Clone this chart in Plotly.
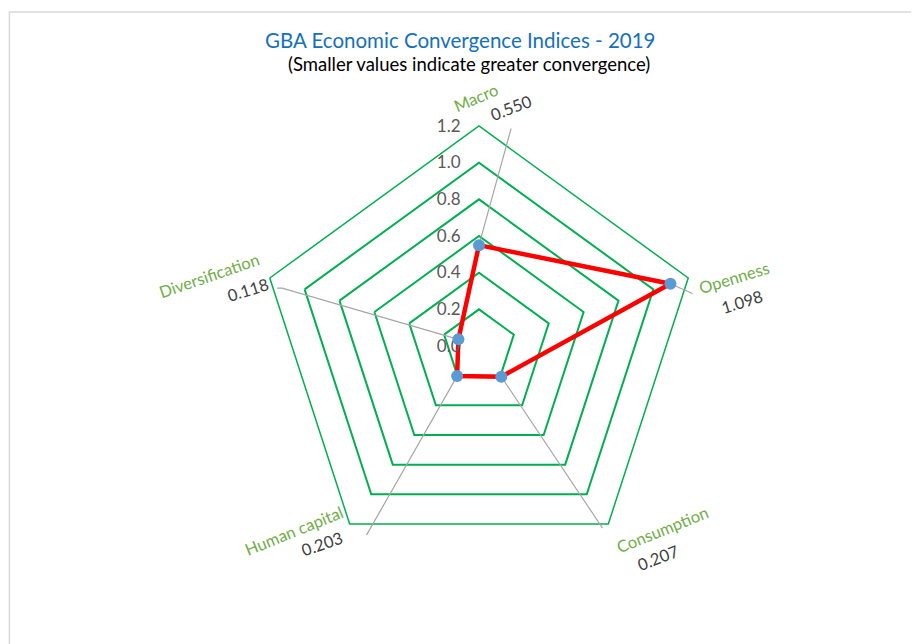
import plotly.graph_objects as go

# ---- data ----
categories = ["Macro", "Openness", "Consumption", "Human capital", "Diversification"]
values = [0.550, 1.098, 0.207, 0.203, 0.118]
radial_ticks = [0.0, 0.2, 0.4, 0.6, 0.8, 1.0, 1.2]

title_text = "GBA Economic Convergence Indices - 2019"
subtitle_text = "(Smaller values indicate greater convergence)"

# ---- layout constants ----
W, H = 919, 644
OFF = 8  # page body margin
FONT = "Lato"
GREEN_GRID = "#00B050"
GREEN_TXT = "#70AD47"
dom_x = [0.2731, 0.7519]
dom_y = [0.1335, 0.8168]

def px(x, y):
    return (x - OFF) / W, 1 - (y - OFF) / H

n = len(categories)
cat_angles = [i * 360 / n for i in range(n)]

# leader-line geometry (polar: r, theta deg clockwise from top) for label anchors
leader_pts = {
    "Macro": [(1.20, 8.4)],
    "Openness": [(1.282, 79.0), (1.304, 79.2)],
    "Consumption": [(1.389, 145.9), (1.408, 144.8)],
    "Human capital": [(1.249, 210.7), (1.277, 212.8)],
    "Diversification": [(1.119, 286.4), (1.145, 286.0)],
}
# label placement (page pixel centers, rotation)
label_pos = {
    "Macro": ((476, 98, -23), (511, 108, -21)),
    "Openness": ((734, 278, -17), (742, 302, -17)),
    "Consumption": ((662, 530, -22), (658, 558, -21)),
    "Human capital": ((294, 531, -22), (322, 544, -19)),
    "Diversification": ((209, 276, -19), (248, 290, -17)),
}

fig = go.Figure()

# red data polygon on the categorical (pentagon-grid) subplot
fig.add_trace(go.Scatterpolar(
    r=values + values[:1], theta=categories + categories[:1],
    mode="lines", line=dict(color="#FF0000", width=4.5),
    subplot="polar", showlegend=False, hoverinfo="skip"))

# leader lines
for c, v, a in zip(categories, values, cat_angles):
    pts = leader_pts[c]
    fig.add_trace(go.Scatterpolar(
        r=[v] + [p[0] for p in pts], theta=[a] + [p[1] for p in pts],
        mode="lines", line=dict(color="#A6A6A6", width=1.2),
        subplot="polar2", cliponaxis=False, showlegend=False, hoverinfo="skip"))

# markers
fig.add_trace(go.Scatterpolar(
    r=values, theta=cat_angles, mode="markers",
    marker=dict(color="#5B9BD5", size=12),
    subplot="polar2", cliponaxis=False, showlegend=False,
    text=categories, hovertemplate="%{text}: %{r:.3f}<extra></extra>"))

annotations = []
for c, v in zip(categories, values):
    (lx, ly, la), (vx, vy, va) = label_pos[c]
    x, y = px(lx, ly)
    annotations.append(dict(x=x, y=y, xref="paper", yref="paper", text=c,
                            showarrow=False, textangle=la, xanchor="center", yanchor="middle",
                            font=dict(family=FONT, size=16.5, color=GREEN_TXT)))
    x, y = px(vx, vy)
    annotations.append(dict(x=x, y=y, xref="paper", yref="paper", text=f"{v:.3f}",
                            showarrow=False, textangle=va, xanchor="center", yanchor="middle",
                            font=dict(family=FONT, size=16.5, color="#404040")))

x, y = px(460, 40)
annotations.append(dict(x=x, y=y, xref="paper", yref="paper", text=title_text, showarrow=False,
                        xanchor="center", yanchor="middle",
                        font=dict(family=FONT, size=20.5, color="#1570BE")))
x, y = px(469, 64)
annotations.append(dict(x=x, y=y, xref="paper", yref="paper", text=subtitle_text, showarrow=False,
                        xanchor="center", yanchor="middle",
                        font=dict(family=FONT, size=18.5, color="#000000")))

fig.update_layout(
    width=W, height=H,
    margin=dict(l=0, r=0, t=0, b=0),
    paper_bgcolor="white", plot_bgcolor="white",
    font=dict(family=FONT),
    showlegend=False,
    polar=dict(
        domain=dict(x=dom_x, y=dom_y),
        gridshape="linear",
        bgcolor="rgba(0,0,0,0)",
        radialaxis=dict(range=[0, 1.2], tickvals=radial_ticks,
                        ticktext=[f"{t:.1f}" for t in radial_ticks],
                        angle=90, side="counterclockwise", tickangle=90,
                        showline=False, gridcolor=GREEN_GRID, gridwidth=1.5,
                        ticks="outside", ticklen=12, tickcolor="rgba(0,0,0,0)",
                        tickfont=dict(family=FONT, size=17, color="#595959")),
        angularaxis=dict(type="category", categoryarray=categories,
                         rotation=90, direction="clockwise",
                         showgrid=False, showticklabels=False, ticks="",
                         showline=True, linecolor=GREEN_GRID, linewidth=1.5),
    ),
    polar2=dict(
        domain=dict(x=dom_x, y=dom_y),
        bgcolor="rgba(0,0,0,0)",
        radialaxis=dict(range=[0, 1.2], visible=False),
        angularaxis=dict(type="linear", rotation=90, direction="clockwise", visible=False),
    ),
    annotations=annotations,
    shapes=[dict(type="rect", xref="paper", yref="paper",
                 x0=0.0015, x1=1.05, y0=-0.05, y1=1 - 4 / H,
                 line=dict(color="#D9D9D9", width=1.5), fillcolor="rgba(0,0,0,0)", layer="below")],
)

fig.write_html("out.html")
